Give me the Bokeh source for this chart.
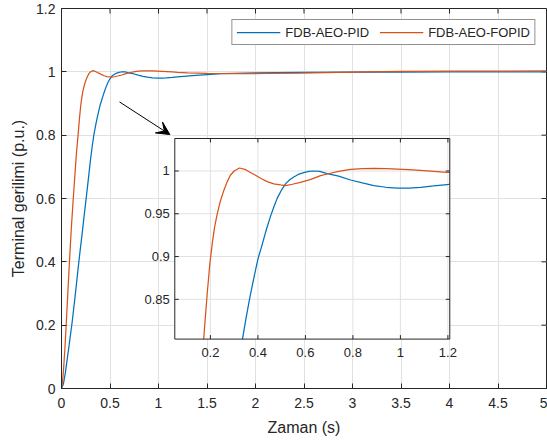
import math
from bokeh.plotting import figure
from bokeh.models import Range1d, FixedTicker, Legend, LegendItem, Arrow, VeeHead
from bokeh.core.properties import value
from bokeh.embed import file_html
from bokeh.resources import INLINE

# ---------------- data ----------------
SERIES_NAMES = ["FDB-AEO-PID", "FDB-AEO-FOPID"]

T_PID = [0, 0.02, 0.04, 0.06, 0.08, 0.11, 0.14, 0.168, 0.19, 0.213, 0.235, 0.258,
         0.28, 0.30, 0.317, 0.333, 0.35, 0.366, 0.383, 0.40, 0.418, 0.435, 0.453,
         0.467, 0.481, 0.50, 0.516, 0.535, 0.551, 0.57, 0.593, 0.615, 0.635, 0.66,
         0.692, 0.74, 0.79, 0.84, 0.888, 0.94, 0.987, 1.035, 1.085, 1.14, 1.197,
         1.26, 1.35, 1.5, 1.65, 1.78, 2.0, 2.2, 2.5, 3.0, 3.5, 4.0, 4.5, 5.0]
V_PID = [0, 0.015, 0.05, 0.095, 0.14, 0.21, 0.29, 0.37, 0.43, 0.49, 0.55, 0.61,
         0.67, 0.725, 0.765, 0.80, 0.828, 0.852, 0.875, 0.897, 0.914, 0.931, 0.947,
         0.958, 0.968, 0.978, 0.985, 0.990, 0.993, 0.996, 0.998, 0.9995, 1.0, 0.9995,
         0.997, 0.994, 0.9895, 0.986, 0.983, 0.981, 0.980, 0.980, 0.981, 0.9825, 0.9842,
         0.986, 0.988, 0.9915, 0.994, 0.9955, 0.997, 0.9978, 0.9983, 0.999, 0.9993,
         0.9995, 0.9995, 0.9996]

T_FOPID = [0, 0.01, 0.02, 0.035, 0.048, 0.065, 0.082, 0.10, 0.118, 0.135, 0.152,
           0.172, 0.186, 0.198, 0.209, 0.218, 0.228, 0.242, 0.256, 0.27, 0.284, 0.30, 0.322,
           0.345, 0.37, 0.39, 0.415, 0.439, 0.467, 0.495, 0.516, 0.545, 0.579, 0.62,
           0.664, 0.692, 0.74, 0.79, 0.84, 0.888, 0.94, 0.987, 1.035, 1.085, 1.14,
           1.197, 1.3, 1.5, 1.8, 2.1, 2.46, 2.98, 3.49, 4.0, 4.5, 5.0]
V_FOPID = [0, 0.02, 0.055, 0.125, 0.2, 0.3, 0.4, 0.5, 0.585, 0.66, 0.735,
           0.805, 0.855, 0.893, 0.918, 0.935, 0.949, 0.965, 0.977, 0.987, 0.995, 1.0, 1.0035,
           1.002, 0.998, 0.995, 0.991, 0.9876, 0.985, 0.9837, 0.983, 0.9845, 0.9868, 0.99,
           0.9945, 0.9965, 0.9995, 1.0019, 1.0028, 1.003, 1.0028, 1.0023, 1.0016, 1.0007, 0.9996,
           0.9984, 0.997, 0.9955, 0.9945, 0.9948, 0.996, 0.999, 1.0015, 1.002, 1.0025, 1.003]

X_TICKS = [0, 0.5, 1, 1.5, 2, 2.5, 3, 3.5, 4, 4.5, 5]
X_TICK_LABELS = ["0", "0.5", "1", "1.5", "2", "2.5", "3", "3.5", "4", "4.5", "5"]
Y_TICKS = [0, 0.2, 0.4, 0.6, 0.8, 1.0, 1.2]
Y_TICK_LABELS = ["0", "0.2", "0.4", "0.6", "0.8", "1", "1.2"]

INSET_X_TICKS = [0.2, 0.4, 0.6, 0.8, 1.0, 1.2]
INSET_X_TICK_LABELS = ["0.2", "0.4", "0.6", "0.8", "1", "1.2"]
INSET_Y_TICKS = [0.85, 0.9, 0.95, 1.0]
INSET_Y_TICK_LABELS = ["0.85", "0.9", "0.95", "1"]

X_LABEL = "Zaman (s)"
Y_LABEL = "Terminal gerilimi (p.u.)"

# ---------------- layout / style constants ----------------
X_RANGE = (0, 5)
Y_RANGE = (0, 1.2)
INSET_X_RANGE = (0.05, 1.208)
INSET_Y_RANGE = (0.8035, 1.038)
INSET_BOX = (1.168, 4.003, 0.156, 0.7895)   # left, right, bottom, top in main data units
ARROW_POS = (0.598, 0.905, 1.117, 0.802)

BLUE = "#0072BD"
ORANGE = "#D95319"
AXIS = "#262626"
GRID = "#e1e1e1"
FONT = "Liberation Sans"
LW = 1.25


def clip_polyline(xs, ys, xmin, xmax, ymin, ymax):
    """Liang-Barsky clipping of a polyline to a rectangle (NaN separated)."""
    def lb(xa, ya, xb, yb):
        dx, dy = xb - xa, yb - ya
        t0, t1 = 0.0, 1.0
        for p_, q_ in ((-dx, xa - xmin), (dx, xmax - xa), (-dy, ya - ymin), (dy, ymax - ya)):
            if p_ == 0:
                if q_ < 0:
                    return None
            else:
                r = q_ / p_
                if p_ < 0:
                    if r > t1:
                        return None
                    t0 = max(t0, r)
                else:
                    if r < t0:
                        return None
                    t1 = min(t1, r)
        return xa + t0 * dx, ya + t0 * dy, xa + t1 * dx, ya + t1 * dy

    ox, oy = [], []
    for i in range(len(xs) - 1):
        seg = lb(xs[i], ys[i], xs[i + 1], ys[i + 1])
        if seg is None:
            continue
        ax, ay, bx, by = seg
        if ox and not (math.isclose(ox[-1], ax) and math.isclose(oy[-1], ay)):
            ox.append(float("nan")); oy.append(float("nan"))
        if not ox or math.isnan(ox[-1]):
            ox.append(ax); oy.append(ay)
        ox.append(bx); oy.append(by)
    return ox, oy


p = figure(width=547, height=440,
           x_range=Range1d(*X_RANGE), y_range=Range1d(*Y_RANGE),
           output_backend="svg", toolbar_location=None,
           min_border_left=61, min_border_right=1, min_border_top=8, min_border_bottom=52,
           background_fill_color="white", border_fill_color="white",
           outline_line_color=AXIS, outline_line_width=1)

# axes
p.xaxis.ticker = FixedTicker(ticks=X_TICKS)
p.yaxis.ticker = FixedTicker(ticks=Y_TICKS)
p.xaxis.major_label_overrides = {float(k): v for k, v in zip(X_TICKS, X_TICK_LABELS)}
p.yaxis.major_label_overrides = {float(k): v for k, v in zip(Y_TICKS, Y_TICK_LABELS)}
p.xaxis.axis_label = X_LABEL
p.yaxis.axis_label = Y_LABEL
for ax in (p.xaxis[0], p.yaxis[0]):
    ax.major_tick_in = 5
    ax.major_tick_out = 0
    ax.minor_tick_in = 0
    ax.minor_tick_out = 0
    ax.axis_line_color = AXIS
    ax.major_tick_line_color = AXIS
    ax.major_label_text_font = FONT
    ax.major_label_text_font_size = "14px"
    ax.major_label_text_color = AXIS
    ax.axis_label_text_font = FONT
    ax.axis_label_text_font_size = "16px"
    ax.axis_label_text_font_style = "normal"
    ax.axis_label_text_color = AXIS
p.xaxis.major_label_standoff = 9
p.xaxis.axis_label_standoff = 8
p.yaxis.major_label_standoff = 6
p.yaxis.axis_label_standoff = 6

p.xgrid.ticker = FixedTicker(ticks=X_TICKS)
p.ygrid.ticker = FixedTicker(ticks=Y_TICKS)
for g in (p.xgrid[0], p.ygrid[0]):
    g.grid_line_color = GRID
    g.grid_line_width = 1

# box ticks on top and right
p.ray(x=X_TICKS, y=[Y_RANGE[1]] * len(X_TICKS), length=5, length_units="screen",
      angle=-math.pi / 2, line_color=AXIS, line_width=1)
p.ray(x=[X_RANGE[1]] * len(Y_TICKS), y=Y_TICKS, length=5, length_units="screen",
      angle=math.pi, line_color=AXIS, line_width=1)

# main curves
r_pid = p.line(T_PID, V_PID, line_color=BLUE, line_width=LW)
r_fopid = p.line(T_FOPID, V_FOPID, line_color=ORANGE, line_width=LW)

# ---------------- inset ----------------
il, ir, ib, it = INSET_BOX
p.quad(left=[il], right=[ir], bottom=[ib], top=[it], fill_color="white", line_color=None)
sub = p.subplot(x_source=Range1d(*INSET_X_RANGE), y_source=Range1d(*INSET_Y_RANGE),
                x_target=Range1d(il, ir), y_target=Range1d(ib, it))
x0, x1 = INSET_X_RANGE
y0, y1 = INSET_Y_RANGE
sub.segment(x0=INSET_X_TICKS, y0=[y0] * len(INSET_X_TICKS), x1=INSET_X_TICKS,
            y1=[y1] * len(INSET_X_TICKS), line_color=GRID, line_width=1)
sub.segment(x0=[x0] * len(INSET_Y_TICKS), y0=INSET_Y_TICKS, x1=[x1] * len(INSET_Y_TICKS),
            y1=INSET_Y_TICKS, line_color=GRID, line_width=1)
cx, cy = clip_polyline(T_PID, V_PID, x0, x1, y0, y1)
sub.line(cx, cy, line_color=BLUE, line_width=LW)
cx, cy = clip_polyline(T_FOPID, V_FOPID, x0, x1, y0, y1)
sub.line(cx, cy, line_color=ORANGE, line_width=LW)
# inset ticks (inside, all four sides)
sub.ray(x=INSET_X_TICKS, y=[y0] * len(INSET_X_TICKS), length=4, length_units="screen",
        angle=math.pi / 2, line_color=AXIS)
sub.ray(x=INSET_X_TICKS, y=[y1] * len(INSET_X_TICKS), length=4, length_units="screen",
        angle=-math.pi / 2, line_color=AXIS)
sub.ray(x=[x0] * len(INSET_Y_TICKS), y=INSET_Y_TICKS, length=4, length_units="screen",
        angle=0, line_color=AXIS)
sub.ray(x=[x1] * len(INSET_Y_TICKS), y=INSET_Y_TICKS, length=4, length_units="screen",
        angle=math.pi, line_color=AXIS)
# inset tick labels
sub.text(x=INSET_X_TICKS, y=[y0] * len(INSET_X_TICKS), text=INSET_X_TICK_LABELS,
         text_align="center", text_baseline="middle", y_offset=13,
         text_font=value(FONT), text_font_size="13px", text_color=AXIS)
sub.text(x=[x0] * len(INSET_Y_TICKS), y=INSET_Y_TICKS, text=INSET_Y_TICK_LABELS,
         text_align="right", text_baseline="middle", x_offset=-5,
         text_font=value(FONT), text_font_size="13px", text_color=AXIS)
p.quad(left=[il], right=[ir], bottom=[ib], top=[it], fill_color=None,
       line_color=AXIS, line_width=1)

# arrow
ax0, ay0, ax1, ay1 = ARROW_POS
p.add_layout(Arrow(x_start=ax0, y_start=ay0, x_end=ax1, y_end=ay1,
                   line_color="black", line_width=1,
                   end=VeeHead(size=13, fill_color="black", line_color="black")))

# legend
legend = Legend(items=[LegendItem(label=SERIES_NAMES[0], renderers=[r_pid]),
                       LegendItem(label=SERIES_NAMES[1], renderers=[r_fopid])],
                location="top_right", orientation="horizontal",
                border_line_color=AXIS, border_line_width=1,
                background_fill_color="white", background_fill_alpha=1,
                label_text_font=FONT, label_text_font_size="13px", label_text_color=AXIS,
                glyph_width=44, glyph_height=16, label_height=16,
                label_standoff=5, spacing=10, padding=4, margin=11)
p.add_layout(legend)

open("out.html", "w").write(file_html(p, INLINE))
